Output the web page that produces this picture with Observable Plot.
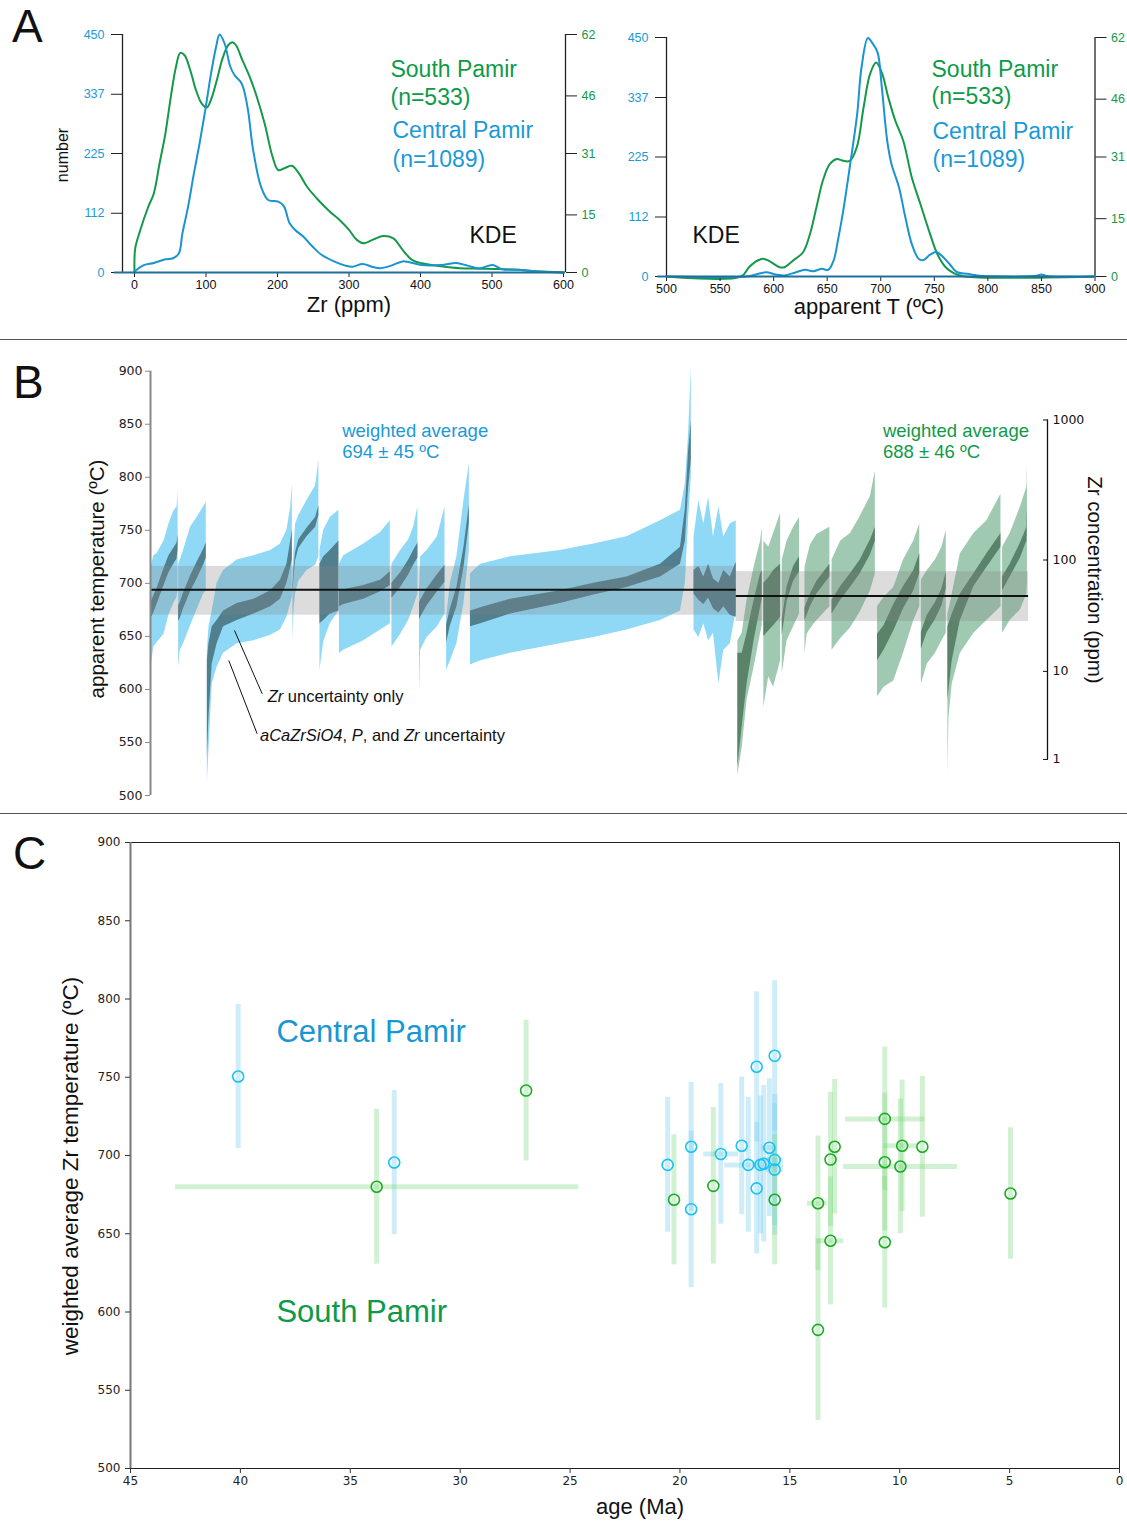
<!DOCTYPE html>
<html>
<head>
<meta charset="utf-8">
<script src="https://cdn.jsdelivr.net/npm/d3@7"></script>
<script src="https://cdn.jsdelivr.net/npm/@observablehq/plot@0.6"></script>
<style>
  html, body { margin: 0; padding: 0; background: #fff; }
  #fig { position: relative; width: 1127px; height: 1521px; overflow: hidden; background: #fff; }
  #fig > svg { position: absolute; }
</style>
</head>
<body>
<div id="fig"></div>
<script>
// ================= DATA =================
// ---- Panel A: KDE curves ----
const zrTicks = [0, 100, 200, 300, 400, 500, 600];
const tTicksA = [500, 550, 600, 650, 700, 750, 800, 850, 900];
const countTicksCentral = [0, 112, 225, 337, 450];
const countTicksSouth = [0, 15, 31, 46, 62];
const zrDomain = [-16.8, 602.8];
const tDomainA = [500, 900];

// [Zr ppm, number] Central Pamir (left axis)
const kdeZrCentral = [[0,2],[13,14],[27,18],[43,25],[54,27],[62,36],[67,74],[75,125],[83,187],[91,244],[99,307],[107,376],[114,426],[119,450],[126,433],[134,389],[140,373],[150,357],[158,313],[166,231],[177,162],[187,137],[201,134],[209,125],[217,93],[225,80],[236,68],[249,49],[262,33],[279,21],[295,13],[305,11],[319,16],[332,11],[343,8],[359,13],[375,21],[386,19],[402,14],[429,14],[450,18],[466,13],[482,8],[501,14],[514,6],[536,5],[562,2],[600,0]];
// [Zr ppm, number] South Pamir (right axis)
const kdeZrSouth = [[0,0],[1,6.3],[8,11],[19,17],[27,20.6],[35,28.4],[43,36],[51,46],[58,53.6],[64,57.2],[70,56.6],[78,52.7],[86,47.5],[94,44],[101,43],[107,45],[115,50],[123,55.7],[131,59.2],[137,60],[142,59.2],[150,55.7],[161,51],[171,45.8],[182,38.8],[193,30.2],[201,26.7],[209,27.1],[220,27.8],[230,25.8],[241,22.4],[257,18.9],[273,15.9],[289,13.3],[300,11.1],[311,8.5],[321,7.6],[335,8.7],[348,9.5],[362,8.9],[375,5.9],[388,3.3],[402,2.4],[429,1.6],[455,1.1],[482,1.0],[509,0.9],[536,0.7],[562,0.3],[600,0]];
// [apparent T, number] Central Pamir
const kdeTCentral = [[500,0],[575,0],[583.6,3.8],[593,8],[602,3.8],[610,2],[621,8],[629,12.5],[637,10],[645,14.4],[651,12.5],[656,30],[660,67.7],[665,124],[671,205],[678,306],[682,393],[688,449],[692,440],[697,422],[701,356],[706,256],[710,212],[717,168],[723,111],[729,61],[735.5,33],[740,31],[746,41],[752,46],[757,39],[764,24],[771.5,8],[781,5],[790,2],[800,0.6],[840,0.5],[846.7,2],[850,4],[856,0.6],[900,0]];
// [apparent T, number] South Pamir
const kdeTSouth = [[500,0],[569.5,0],[577,2.4],[583.6,3.9],[590,4.6],[596,4.0],[605.5,2.4],[610,2.4],[618,4.1],[627.5,6.3],[634,11.1],[640,18.0],[646,24.9],[652.5,29.2],[659,30.5],[665,30.0],[671,30.0],[677.6,33.5],[684,43.9],[690,52.5],[695.7,55.5],[701,52.9],[707,46.5],[713.6,40.4],[721,35.2],[729,25.7],[737,18.8],[745,11.9],[752.7,5.9],[760.6,2.4],[768,0.9],[778,0],[900,0]];

// ---- Panel B: sorted analyses per sample: [analysis #, outerLo, outerHi, innerLo, innerHi] (°C) ----
const cp1 = [[1,621,715,667,682],[6,640,726,672,688],[12,644,728,680,695],[25,652,740,698,714],[34,670,756,710,726],[43,681,768,718,733],[49,687,772,723,738],[51,693,787,732,746]];
const cp2 = [[52,621,718,664,679],[55,637,722,667,682],[61,643,731,676,691],[74,660,753,692,707],[86,675,762,704,720],[98,690,772,717,732],[103,693,777,724,738]];
const cp3 = [[105,513,637,536,627],[108,543,659,574,643],[114,605,674,624,659],[123,621,700,643,665],[135,634,712,659,674],[160,643,722,665,681],[191,646,726,671,685],[222,651,731,678,693],[240,656,737,685,703],[252,668,750,700,718],[259,681,772,715,740],[262,687,794,722,750]];
const cp4 = [[263,646,712,689,697],[265,674,730,705,713],[268,690,756,721,729],[274,702,764,733,741],[289,712,778,744,752],[305,717,792,753,762],[311,725,816,764,773]];
const cp5 = [[313,618,731,662,718],[320,645,750,665,725],[332,662,762,671,731],[348,674,769,674,740]];
const cp6 = [[349,634,718,678,693],[357,637,726,680,694],[394,646,737,685,698],[425,656,748,692,703],[443,662,759,698,711]];
const cp7 = [[446,640,718,686,700],[462,652,731,696,710],[477,665,741,708,722],[486,678,753,717,731],[494,690,772,724,738]];
const cp8 = [[497,596,693,666,682],[499,637,725,668,684],[511,649,731,679,695],[530,659,744,692,708],[544,671,772,701,717]];
const cp9 = [[547,618,668,644,661],[554,627,700,660,676],[566,643,725,678,696],[579,681,778,715,734],[589,731,813,757,774]];
const cp10 = [[591,623,709,659,674],[610,627,718,662,677],[665,634,725,671,685],[757,643,731,681,693],[819,649,737,689,700],[880,656,744,696,706],[942,665,759,706,718],[979,674,769,718,734],[988,700,794,740,770],[994,760,841,790,825],[999,800,904,816,853]];
const cp11 = [[1004,656,744,690,712],[1013,649,778,684,716],[1022,662,756,680,706],[1031,646,781,686,718],[1040,653,744,676,704],[1050,605,772,672,700],[1059,637,744,678,712],[1071,643,756,670,706],[1082,674,759,668,720]];
const sp1 = [[1085,519,646,527,634],[1093,545,653,565,634],[1102,590,684,605,653],[1115,621,715,646,684],[1127,653,740,678,709],[1130,660,753,685,712]];
const sp2 = [[1133,583,740,650,700],[1142,612,734,655,705],[1151,602,747,660,712],[1164,627,766,668,718]];
const sp3 = [[1167,615,722,651,666],[1176,646,740,683,697],[1188,659,753,702,716],[1199,671,762,711,725]];
const sp4 = [[1209,634,715,665,677],[1213,652,724,670,682],[1219,657,736,678,690],[1231,665,746,690,702],[1255,678,753,706,718]];
const sp5 = [[1259,637,722,671,684],[1275,648,740,684,697],[1293,658,747,696,709],[1311,673,763,709,722],[1330,693,782,727,741],[1339,709,806,740,753]];
const sp6 = [[1343,593,678,627,652],[1355,602,687,637,660],[1373,608,696,655,680],[1391,634,722,676,697],[1410,665,740,693,712],[1421,678,756,709,728]];
const sp7 = [[1424,605,703,638,654],[1435,624,712,654,670],[1450,634,722,666,682],[1462,646,734,679,695],[1470,653,750,695,711]];
const sp8 = [[1473,521,671,590,659],[1475,574,675,600,662],[1481,605,690,627,671],[1496,634,728,665,690],[1521,653,747,697,709],[1545,665,759,715,728],[1571,678,784,734,747]];
const sp9 = [[1574,653,734,693,706],[1588,665,747,706,718],[1607,675,772,724,738],[1619,690,791,740,753],[1620,700,813,760,772]];
const centralSamples = [cp1, cp2, cp3, cp4, cp5, cp6, cp7, cp8, cp9, cp10, cp11];
const southSamples = [sp1, sp2, sp3, sp4, sp5, sp6, sp7, sp8, sp9];
const bTempTicks = [500, 550, 600, 650, 700, 750, 800, 850, 900];
const bIndexDomain = [0, 1657];
// weighted averages: [from #, to #, mean, bandLo, bandHi]
const wavgCentral = [0, 1082, 694, 670, 716];
const wavgSouth = [1082, 1622, 688, 664, 711];
// Zr concentration axis (ppm) and the temperature each one sits at
const zrConcLabels = [1, 10, 100, 1000];
const zrConcTemps = [534, 617, 722, 854];

// ---- Panel C: weighted average per sample ----
const cpAge = [40.1, 33.0, 20.56, 19.49, 19.49, 18.14, 17.19, 16.89, 16.51, 16.51, 16.34, 16.19, 15.93, 15.69, 15.69, 15.69];
const cpTemp = [750.5, 695.5, 694, 705.6, 665.7, 701, 706.2, 694, 756.7, 679, 694, 694.7, 705, 763.7, 697.2, 691];
const cpTempErr = [46, 46, 43, 41, 50, 45, 44, 43, 48, 42, 44, 50, 44, 48, 42, 42];
const cpAgeLo = [null, null, null, null, null, 17.33, null, null, null, null, 15.28, null, 15.6, null, 15.3, 15.3];
const cpAgeHi = [null, null, null, null, null, 18.92, null, null, null, null, 17.96, null, 16.3, null, 16.2, 16.1];
const spAge = [33.8, 27.0, 20.27, 18.48, 15.69, 13.72, 13.72, 13.15, 12.96, 13.15, 10.68, 10.68, 10.68, 9.89, 9.97, 8.97, 4.96];
const spTemp = [680, 741.5, 671.7, 680.6, 671.7, 669.5, 588.6, 697.4, 705.6, 645.5, 723.4, 695.7, 644.6, 706.2, 693, 705.6, 675.7];
const spTempErr = [49.5, 45, 41.5, 50, 41.5, 43, 58, 43, 43, 41, 46, 44, 42, 42, 43, 45, 42];
const spAgeLo = [24.6, null, null, null, null, 13.3, null, null, null, 12.55, 8.86, null, null, 9.2, 7.37, null, null];
const spAgeHi = [42.95, null, null, null, null, 14.2, null, null, null, 13.76, 12.47, null, null, 10.73, 12.55, null, null];
const cAgeTicks = [45, 40, 35, 30, 25, 20, 15, 10, 5, 0];
const cTempTicks = [500, 550, 600, 650, 700, 750, 800, 850, 900];

// ================= STYLE =================
const BLUE_LINE = "#1b93d1", GREEN_LINE = "#14994a";
const BLUE_TXT = "#1a9ad6", GREEN_TXT = "#0f9a48";
const SANS = "'Liberation Sans', Arial, sans-serif";
const DEJAVU = "'DejaVu Sans', Verdana, sans-serif";
const fig = document.getElementById("fig");
function put(el, left, top) { el.style.left = left + "px"; el.style.top = top + "px"; fig.appendChild(el); }
const baseStyle = (family, size) => ({fontFamily: family, fontSize: size, background: "transparent", overflow: "visible", color: "#111"});

// ================= PANEL A (left: Zr) =================
const aGeomL = {width: 600, height: 330, marginLeft: 122, marginRight: 35, marginTop: 34, marginBottom: 58};
const aLeftSouth = Plot.plot({
  ...aGeomL, style: baseStyle(SANS, "12.5px"),
  x: {domain: zrDomain, axis: null}, y: {domain: [0, 62], axis: null},
  marks: [
    Plot.ruleX([zrDomain[1]], {y1: 0, y2: 62, stroke: "#222", strokeWidth: 1.3}),
    Plot.axisY(countTicksSouth, {anchor: "right", tickSize: 11, tickPadding: 5, stroke: "#222", fill: GREEN_TXT, label: null}),
    Plot.line(kdeZrSouth, {x: d => d[0], y: d => d[1], stroke: GREEN_LINE, strokeWidth: 2, curve: "catmull-rom"})
  ]
});
put(aLeftSouth, 0, 0);
const aLeftCentral = Plot.plot({
  ...aGeomL, style: baseStyle(SANS, "12.5px"),
  x: {domain: zrDomain, axis: null}, y: {domain: [0, 450], axis: null},
  marks: [
    Plot.ruleX([zrDomain[0]], {y1: 0, y2: 450, stroke: "#222", strokeWidth: 1.3}),
    Plot.axisY(countTicksCentral, {anchor: "left", tickSize: 11, tickPadding: 7, stroke: "#222", fill: BLUE_TXT, label: null}),
    Plot.axisX(zrTicks, {anchor: "bottom", tickSize: 5, tickPadding: 3, stroke: "#222", fill: "#111", label: null}),
    Plot.line(kdeZrCentral, {x: d => d[0], y: d => d[1], stroke: BLUE_LINE, strokeWidth: 2, curve: "catmull-rom"}),
    Plot.ruleY([0], {x1: -28, x2: zrDomain[1], stroke: "#1f6f99", strokeWidth: 2}),
    Plot.text([
      {t: "South Pamir", x: 358, y: 368.7, c: GREEN_TXT}, {t: "(n=533)", x: 358, y: 317.6, c: GREEN_TXT},
      {t: "Central Pamir", x: 360.8, y: 253.4, c: BLUE_TXT}, {t: "(n=1089)", x: 360.8, y: 200.4, c: BLUE_TXT},
      {t: "KDE", x: 468.5, y: 56.7, c: "#111"}
    ], {x: "x", y: "y", text: "t", fill: "c", fontSize: 23, textAnchor: "start", lineAnchor: "bottom", fontFamily: SANS})
  ]
});
put(aLeftCentral, 0, 0);

// ================= PANEL A (right: T) =================
const aGeomR = {width: 527, height: 330, marginLeft: 66, marginRight: 32.5, marginTop: 37, marginBottom: 54};
const aRightSouth = Plot.plot({
  ...aGeomR, style: baseStyle(SANS, "12.5px"),
  x: {domain: tDomainA, axis: null}, y: {domain: [0, 62], axis: null},
  marks: [
    Plot.ruleX([tDomainA[1]], {y1: 0, y2: 62, stroke: "#222", strokeWidth: 1.3}),
    Plot.axisY(countTicksSouth, {anchor: "right", tickSize: 11, tickPadding: 5, stroke: "#222", fill: GREEN_TXT, label: null}),
    Plot.line(kdeTSouth, {x: d => d[0], y: d => d[1], stroke: GREEN_LINE, strokeWidth: 2, curve: "catmull-rom"})
  ]
});
put(aRightSouth, 600, 0);
const aRightCentral = Plot.plot({
  ...aGeomR, style: baseStyle(SANS, "12.5px"),
  x: {domain: tDomainA, axis: null}, y: {domain: [0, 450], axis: null},
  marks: [
    Plot.ruleX([tDomainA[0]], {y1: 0, y2: 450, stroke: "#222", strokeWidth: 1.3}),
    Plot.axisY(countTicksCentral, {anchor: "left", tickSize: 11, tickPadding: 7, stroke: "#222", fill: BLUE_TXT, label: null}),
    Plot.axisX(tTicksA, {anchor: "bottom", tickSize: 5, tickPadding: 3, stroke: "#222", fill: "#111", label: null}),
    Plot.line(kdeTCentral, {x: d => d[0], y: d => d[1], stroke: BLUE_LINE, strokeWidth: 2, curve: "catmull-rom"}),
    Plot.ruleY([0], {x1: 492, x2: tDomainA[1], stroke: "#1f6f99", strokeWidth: 2}),
    Plot.text([
      {t: "South Pamir", x: 747.4, y: 374.7, c: GREEN_TXT}, {t: "(n=533)", x: 747.4, y: 323.9, c: GREEN_TXT},
      {t: "Central Pamir", x: 748.3, y: 259.8, c: BLUE_TXT}, {t: "(n=1089)", x: 748.3, y: 207.1, c: BLUE_TXT},
      {t: "KDE", x: 524.3, y: 64.0, c: "#111"}
    ], {x: "x", y: "y", text: "t", fill: "c", fontSize: 23, textAnchor: "start", lineAnchor: "bottom", fontFamily: SANS})
  ]
});
put(aRightCentral, 600, 0);

// ================= PANEL B =================
const toRows = (samples, region) => samples.flatMap((s, k) => s.map(([n, oLo, oHi, iLo, iHi]) => ({g: region + k, n, oLo, oHi, iLo, iHi})));
const bCentral = toRows(centralSamples, "CP");
const bSouth = toRows(southSamples, "SP");
const wavg = [wavgCentral, wavgSouth].map(([x1, x2, m, lo, hi]) => ({x1, x2, m, lo, hi}));
const zrMap = new Map(zrConcTemps.map((t, i) => [t, String(zrConcLabels[i])]));
const bPlot = Plot.plot({
  width: 1127, height: 470, marginLeft: 150, marginRight: 80, marginTop: 30.7, marginBottom: 15,
  style: baseStyle(DEJAVU, "12.5px"),
  x: {domain: bIndexDomain, axis: null}, y: {domain: [500, 900], axis: null},
  marks: [
    Plot.areaY(bCentral, {x: "n", y1: "oLo", y2: "oHi", z: "g", fill: "#90d9f6"}),
    Plot.areaY(bCentral, {x: "n", y1: "iLo", y2: "iHi", z: "g", fill: "#527f8e"}),
    Plot.areaY(bSouth, {x: "n", y1: "oLo", y2: "oHi", z: "g", fill: "#9fcab1"}),
    Plot.areaY(bSouth, {x: "n", y1: "iLo", y2: "iHi", z: "g", fill: "#5b836a"}),
    Plot.rect(wavg, {x1: "x1", x2: "x2", y1: "lo", y2: "hi", fill: "#808080", fillOpacity: 0.28}),
    Plot.ruleY(wavg, {y: "m", x1: "x1", x2: "x2", stroke: "#111", strokeWidth: 2}),
    Plot.ruleX([bIndexDomain[0]], {y1: 500, y2: 900, stroke: "#888", strokeWidth: 2}),
    Plot.axisY(bTempTicks, {anchor: "left", tickSize: 5, tickPadding: 3, stroke: "#888", fill: "#222", label: null}),
    Plot.ruleX([bIndexDomain[1]], {y1: zrConcTemps[0], y2: zrConcTemps[3], stroke: "#111", strokeWidth: 1.3}),
    Plot.axisY(zrConcTemps, {anchor: "right", tickSize: 5, dx: -5, tickPadding: 5, stroke: "#111", fill: "#111", tickFormat: d => zrMap.get(d), label: null}),
    Plot.text([
      {t: "weighted average", x: 354, y: 837.5, c: BLUE_TXT}, {t: "694 ± 45 ºC", x: 354, y: 817.7, c: BLUE_TXT},
      {t: "weighted average", x: 1353, y: 837.5, c: GREEN_TXT}, {t: "688 ± 46 ºC", x: 1353, y: 817.7, c: GREEN_TXT}
    ], {x: "x", y: "y", text: "t", fill: "c", fontSize: 18.5, textAnchor: "start", lineAnchor: "bottom", fontFamily: SANS}),
    Plot.link([{x1: 155.1, y1: 655.6, x2: 206.3, y2: 595.9}, {x1: 144.6, y1: 627.3, x2: 197.0, y2: 558.2}],
      {x1: "x1", y1: "y1", x2: "x2", y2: "y2", stroke: "#111", strokeWidth: 1})
  ]
});
put(bPlot, 0, 340);

// ================= PANEL C =================
const cRows = (age, t, e, lo, hi) => age.map((a, i) => ({a, t: t[i], e: e[i], lo: lo[i], hi: hi[i]}));
const cC = cRows(cpAge, cpTemp, cpTempErr, cpAgeLo, cpAgeHi);
const cS = cRows(spAge, spTemp, spTempErr, spAgeLo, spAgeHi);
const cPlot = Plot.plot({
  width: 1127, height: 691, marginLeft: 130, marginRight: 8, marginTop: 12, marginBottom: 53,
  style: baseStyle(DEJAVU, "12px"),
  x: {domain: [45, 0], axis: null}, y: {domain: [500, 900], axis: null},
  marks: [
    Plot.frame({stroke: "#222", strokeWidth: 1}),
    Plot.ruleX([45], {stroke: "#777", strokeWidth: 2}),
    Plot.axisY(cTempTicks, {anchor: "left", tickSize: 5, tickPadding: 5, stroke: "#333", fill: "#222", label: null}),
    Plot.axisX(cAgeTicks, {anchor: "bottom", tickSize: 5, tickPadding: 3, stroke: "#333", fill: "#222", label: null}),
    Plot.ruleX(cC, {x: "a", y1: d => d.t - d.e, y2: d => d.t + d.e, stroke: "#7fd0f0", strokeOpacity: 0.38, strokeWidth: 5}),
    Plot.ruleY(cC.filter(d => d.lo != null), {y: "t", x1: "lo", x2: "hi", stroke: "#7fd0f0", strokeOpacity: 0.38, strokeWidth: 5}),
    Plot.ruleX(cS, {x: "a", y1: d => d.t - d.e, y2: d => d.t + d.e, stroke: "#7fd67f", strokeOpacity: 0.35, strokeWidth: 5}),
    Plot.ruleY(cS.filter(d => d.lo != null), {y: "t", x1: "lo", x2: "hi", stroke: "#7fd67f", strokeOpacity: 0.35, strokeWidth: 5}),
    Plot.dot(cC, {x: "a", y: "t", r: 5.5, stroke: "#19c3f0", strokeWidth: 1.6, fill: "none"}),
    Plot.dot(cS, {x: "a", y: "t", r: 5.5, stroke: "#1eaa28", strokeWidth: 1.6, fill: "none"}),
    Plot.text([{t: "Central Pamir", x: 38.36, y: 772.8, c: "#1a96d2"}, {t: "South Pamir", x: 38.36, y: 593.9, c: "#0c9a4a"}],
      {x: "x", y: "y", text: "t", fill: "c", fontSize: 31, textAnchor: "start", lineAnchor: "bottom", fontFamily: SANS})
  ]
});
put(cPlot, 0, 830);

// ================= OVERLAY: panel letters, axis titles, separators =================
const ov = d3.create("svg").attr("width", 1127).attr("height", 1521)
  .style("left", "0px").style("top", "0px").style("pointer-events", "none")
  .attr("font-family", SANS).attr("fill", "#111");
ov.selectAll("line.sep").data([339.5, 813.5]).join("line").attr("class", "sep")
  .attr("x1", 0).attr("x2", 1127).attr("y1", d => d).attr("y2", d => d).attr("stroke", "#555").attr("stroke-width", 1);
const T = (s, x, y, size, rot = 0, anchor = "start") => ov.append("text").text(s)
  .attr("transform", `translate(${x},${y}) rotate(${rot})`).attr("font-size", size).attr("text-anchor", anchor);
T("A", 12, 42, 46); T("B", 13, 398, 46); T("C", 13, 869, 46);
T("number", 68, 155, 16, -90, "middle");
T("Zr (ppm)", 349, 312, 22, 0, "middle");
T("apparent T (ºC)", 869, 314, 22, 0, "middle");
T("apparent temperature (ºC)", 104, 579, 20.5, -90, "middle");
T("Zr concentration (ppm)", 1088, 580, 20.5, 90, "middle");
T("weighted average Zr temperature (ºC)", 78, 1166, 22.5, -90, "middle");
T("age (Ma)", 640, 1514, 22, 0, "middle");
const rich = (parts, x, y, size) => {
  const t = ov.append("text").attr("x", x).attr("y", y).attr("font-size", size);
  parts.forEach(([s, it]) => t.append("tspan").text(s).attr("font-style", it ? "italic" : "normal"));
};
rich([["Zr", 1], [" uncertainty only", 0]], 267.7, 701.7, 16.5);
rich([["aCaZrSiO4", 1], [", ", 0], ["P", 1], [", and ", 0], ["Zr", 1], [" uncertainty", 0]], 260, 740.7, 16.5);
fig.appendChild(ov.node());
</script>
</body>
</html>
